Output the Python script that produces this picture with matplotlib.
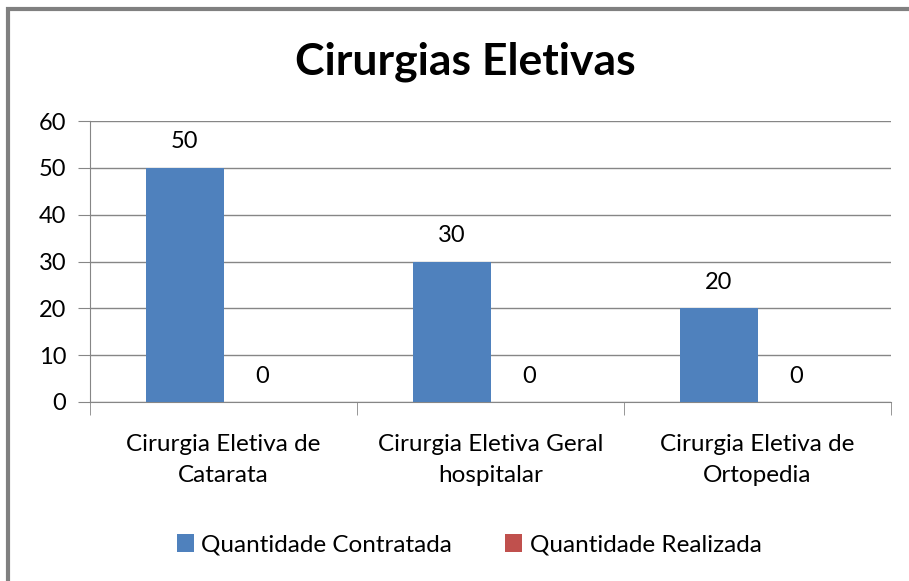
import numpy as np
import matplotlib.pyplot as plt
from matplotlib.patches import Rectangle

categorias = ['Cirurgia Eletiva de\nCatarata', 'Cirurgia Eletiva Geral\nhospitalar', 'Cirurgia Eletiva de\nOrtopedia']
contratada = [50, 30, 20]
realizada = [0, 0, 0]
series = ['Quantidade Contratada', 'Quantidade Realizada']
cores = ['#4F81BD', '#C0504D']

plt.rcParams['font.family'] = ['Lato', 'DejaVu Sans']

fig = plt.figure(figsize=(9.09, 5.81), dpi=100)
ax = fig.add_axes([90/909, 1 - 402/581, 801/909, 281/581])

x = np.arange(len(categorias))
w = 0.29
b1 = ax.bar(x - w/2, contratada, w, color=cores[0], label=series[0], zorder=3)
b2 = ax.bar(x + w/2, realizada, w, color=cores[1], label=series[1], zorder=3)
for bars, vals in [(b1, contratada), (b2, realizada)]:
    for r, v in zip(bars, vals):
        ax.text(r.get_x() + r.get_width()/2, v + 3.3, str(v), ha='center', va='bottom', fontsize=17)

ax.set_xlim(-0.5, 2.5)
ax.set_ylim(0, 60)
ax.set_yticks(range(0, 61, 10))
ax.tick_params(axis='y', labelsize=17, length=9, color='#868686', pad=8)
ax.set_xticks(x)
ax.set_xticklabels(categorias, fontsize=17.5, linespacing=1.6)
ax.tick_params(axis='x', length=0, pad=23)
ax.set_xticks([-0.5, 0.5, 1.5, 2.5], minor=True)
ax.tick_params(axis='x', which='minor', length=9, color='#868686')
ax.grid(axis='y', color='#868686', linewidth=1, zorder=0)
for s in ['top', 'right']:
    ax.spines[s].set_visible(False)
for s in ['left', 'bottom']:
    ax.spines[s].set_color('#868686')

fig.text(465/909, 1 - 62/581, 'Cirurgias Eletivas', ha='center', va='center', fontsize=32, fontweight='bold')

fig.legend(handles=[b1, b2], labels=series, loc='center', bbox_to_anchor=(469/909, 1 - 545/581),
           ncol=2, frameon=False, fontsize=17.5, handlelength=0.7, handleheight=0.7,
           handletextpad=0.3, columnspacing=2.2)

fig.patches.append(Rectangle((8/909, -0.1), 1.2, 1 - 9/581 + 0.1, transform=fig.transFigure,
                             fill=False, edgecolor='#808080', linewidth=3, zorder=10))

fig.savefig('out.png', dpi=100)
